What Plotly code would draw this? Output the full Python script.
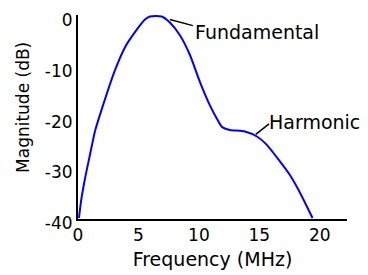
import plotly.graph_objects as go

freq = [0.08, 0.25, 0.58, 0.99, 1.40, 1.90, 3.06, 3.88, 4.71, 5.54, 5.95, 6.92, 7.6, 8.43, 9.26,
        10.08, 10.9, 11.49, 11.9, 12.56, 13.8, 14.8, 15.6, 16.7, 17.5, 18.3, 19.4]
mag = [-39.8, -36.5, -32.0, -27.3, -22.7, -18.8, -10.6, -6.1, -3.1, -0.6, 0.0, 0.0, -1.2, -3.7, -7.6,
       -12.9, -17.5, -20.2, -21.8, -22.4, -22.7, -23.7, -25.3, -28.6, -31.2, -34.5, -39.8]

x_ticks = [0, 5, 10, 15, 20]
y_ticks = [0, -10, -20, -30, -40]

labels = ["Fundamental", "Harmonic"]
label_lines = [(7.6, -0.6, 9.5, -1.8), (14.7, -23.3, 15.8, -21.2)]
label_text_pos = [(9.5, -3.1), (15.6, -20.8)]

FONT = "DejaVu Sans"

fig = go.Figure()
fig.add_trace(go.Scatter(x=freq, y=mag, mode="lines",
                         line=dict(color="#0000ff", width=2, shape="spline", smoothing=0.6),
                         hoverinfo="skip"))

for (x0, y0, x1, y1) in label_lines:
    fig.add_shape(type="line", x0=x0, y0=y0, x1=x1, y1=y1, xref="x", yref="y",
                  line=dict(color="black", width=1.5))
for t, (tx, ty) in zip(labels, label_text_pos):
    fig.add_annotation(x=tx, y=ty, text=t, showarrow=False, xanchor="left", yanchor="middle",
                       font=dict(family=FONT, size=19, color="black"))

fig.add_annotation(x=-0.204, y=0.545, xref="paper", yref="paper", text="Magnitude (dB)",
                   textangle=-90, showarrow=False, xanchor="center", yanchor="middle",
                   font=dict(family=FONT, size=17, color="black"))

# page body has an 8px margin, so the figure is shrunk and shifted to compensate
fig.update_layout(
    width=360, height=267,
    margin=dict(l=70, r=21, t=7, b=56, autoexpand=False),
    paper_bgcolor="white", plot_bgcolor="white",
    showlegend=False,
    xaxis=dict(range=[0, 22.25], tickvals=x_ticks, ticktext=[str(v) for v in x_ticks],
               automargin=False, ticklabeloverflow="allow",
               showgrid=False, zeroline=False, showline=True, linecolor="black", linewidth=2,
               ticks="", tickfont=dict(family=FONT, size=17, color="black"),
               title=dict(text="Frequency (MHz)", font=dict(family=FONT, size=19, color="black"),
                          standoff=8)),
    yaxis=dict(range=[-40, 0.3], tickvals=y_ticks, ticktext=[str(v) for v in y_ticks],
               automargin=False, ticklabeloverflow="allow", ticklabelshift=4,
               showgrid=False, zeroline=False, showline=True, linecolor="black", linewidth=2,
               ticks="", tickfont=dict(family=FONT, size=17, color="black")),
)

fig.write_html("out.html")
